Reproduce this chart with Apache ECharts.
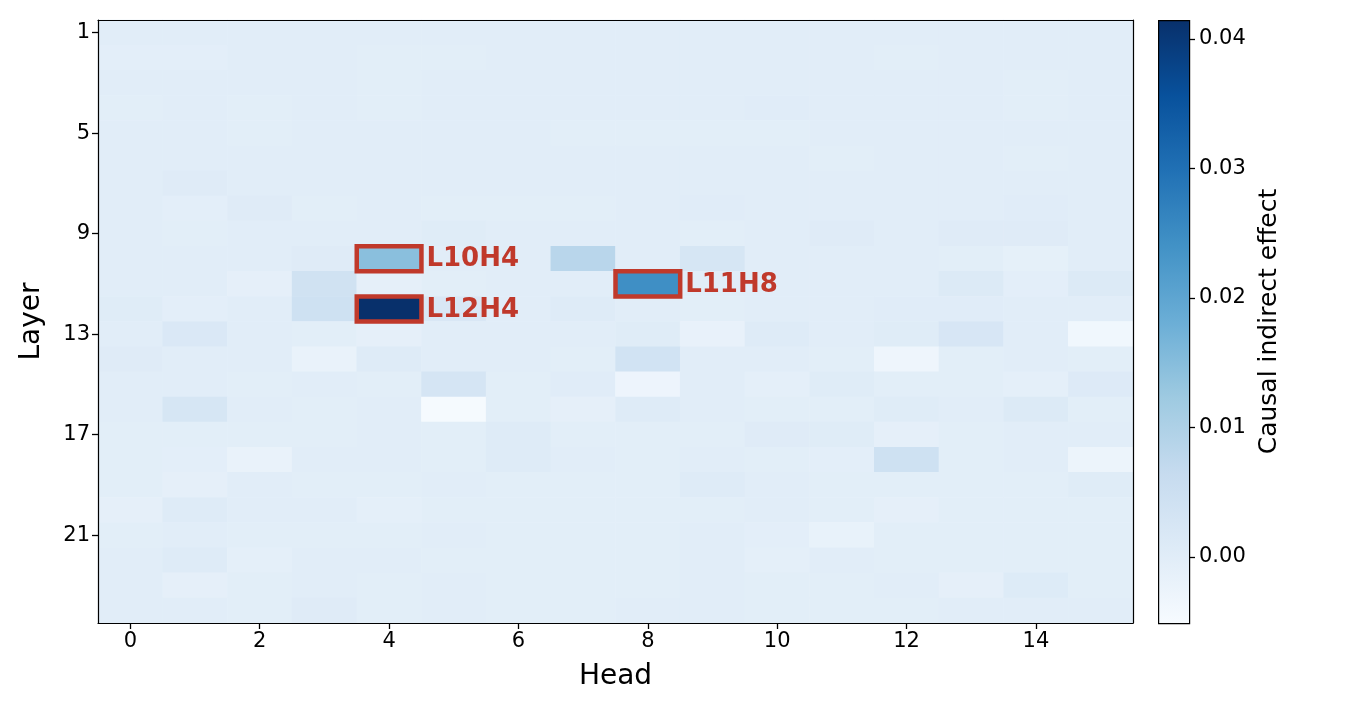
<!DOCTYPE html>
<html>
<head>
<meta charset="utf-8">
<script src="https://cdn.jsdelivr.net/npm/echarts@6/dist/echarts.min.js"></script>
<style>
  html, body { margin: 0; padding: 0; background: #fff; }
  #chart { width: 1365px; height: 715px; }
</style>
</head>
<body>
<div id="chart"></div>
<script>
// causal indirect effect per layer (rows, 1..24) and head (cols, 0..15), in units of 1e-3
const heads = ['0','1','2','3','4','5','6','7','8','9','10','11','12','13','14','15'];
const layers = ['1','2','3','4','5','6','7','8','9','10','11','12','13','14','15','16','17','18','19','20','21','22','23','24'];
const effect = [
  [0, 0, 0, 0, 0, 0, 0, 0, 0, 0, 0, 0, 0, 0, 0, 0],
  [-0.4, -0.4, 0, 0, -0.3, -0.3, 0, 0, 0, 0, 0, 0, -0.3, 0, 0, 0],
  [0, 0, 0, 0, -0.3, 0, 0, 0, 0, 0, 0, 0, 0, 0, -0.3, 0],
  [-0.3, 0, -0.3, 0, -0.3, 0, 0, 0, 0, 0, 0.2, 0, 0, 0, -0.3, 0],
  [0, 0, -0.3, 0, 0, 0, 0, -0.3, -0.2, -0.3, -0.3, 0, 0, 0, 0, 0],
  [0, 0, 0, 0, 0, 0, 0, 0, 0, 0, 0, -0.3, 0, 0, -0.3, 0],
  [0, 0.6, 0, 0, 0, 0, 0, 0, 0, 0, 0, 0, 0, 0, 0, 0],
  [0, -0.4, 0.6, -0.3, 0, -0.3, -0.3, -0.3, 0, 0.3, 0, 0, 0, 0, 0.3, 0],
  [0, -0.3, 0, 0, 0, 0.4, 0, 0, 0, -0.3, 0, 0.6, 0, 0.6, 0.6, 0],
  [0, 0, 0, 0.6, 14.6, 0, 0, 8.4, 0, 2.7, 0, 0, 0, -0.3, -1.0, 0],
  [0, 0, -0.8, 4.0, -0.8, -0.3, 0, 0, 24.5, 0, 0, 0, 0, 1.2, -0.5, 1.2],
  [0.4, -0.4, 0, 4.5, 41.5, 2.0, 0, 0.8, 0, -0.3, 0, 0, 0.3, 0.3, 0, 0],
  [0, 1.8, 0, -0.3, -0.8, 0, 0, 0, 0.5, -1.6, 0.8, 0, 0.5, 2.5, 0, -3.5],
  [0.6, 0, 0, -1.8, 0.8, 0, 0, -0.2, 3.8, 0, 0, -0.2, -3.0, -0.2, 0, -0.2],
  [0, 0, -0.3, 0, -0.3, 3.0, -0.3, 0.3, -2.7, 0, -0.7, 0.5, -0.2, -0.2, -0.6, 1.0],
  [0, 2.7, 0, -0.3, 0, -4.6, -0.3, -0.9, 0.8, 0, -0.2, -0.2, 0.4, 0, 1.1, -0.2],
  [-0.2, -0.2, -0.2, -0.2, 0, -0.3, 0.7, -0.2, -0.2, -0.2, 0.6, 0.4, -0.8, -0.2, 0, 0],
  [-0.3, -0.4, -1.8, 0, 0, -0.3, 0.7, 0, -0.2, 0, -0.2, -0.4, 4.5, -0.2, 0, -2.5],
  [-0.3, -0.8, 0, -0.2, -0.3, 0, -0.2, -0.2, -0.2, 0.7, 0, -0.2, -0.2, -0.2, -0.2, 0.4],
  [-0.9, 0.7, 0, 0, -0.7, -0.2, -0.2, -0.2, -0.2, -0.3, 0, -0.3, -0.9, -0.2, -0.2, -0.2],
  [-0.2, 0, -0.2, -0.2, -0.2, 0, -0.2, -0.2, -0.2, 0, -0.4, -1.7, -0.2, -0.2, -0.2, -0.2],
  [0, 0.8, -0.6, 0, 0, -0.2, -0.2, -0.2, -0.2, 0, -0.7, 0, -0.2, -0.2, -0.2, -0.2],
  [0, -0.8, -0.2, 0, -0.3, 0, -0.2, -0.2, -0.3, 0, -0.2, -0.2, 0, -0.9, 0.9, -0.2],
  [0, 0, -0.2, 0.6, -0.2, 0, -0.2, -0.2, 0, 0, -0.2, -0.2, -0.3, 0, 0, 0]
];
// highlighted heads: [label, head, layer]
const boxes = [
  ['L10H4', '4', '10'],
  ['L12H4', '4', '12'],
  ['L11H8', '8', '11']
];
const colorMin = -0.0051;
const colorMax = 0.04147;
const colorTicks = [0, 0.01, 0.02, 0.03, 0.04];
const blues = ['#f7fbff', '#deebf7', '#c6dbef', '#9ecae1', '#6baed6', '#4292c6', '#2171b5', '#08519c', '#08306b'];

const FONT = 'DejaVu Sans';
const RED = '#c0392b';

const cells = [];
effect.forEach((row, li) => {
  row.forEach((v, hi) => {
    cells.push([hi, li, v / 1000]);
  });
});

const chart = echarts.init(document.getElementById('chart'), null, { renderer: 'canvas' });

// colorbar geometry (same numbers as grid 1)
const cb = { left: 1158, top: 20, width: 31, height: 603 };

const tickStyle = { color: '#000', width: 1.3 };

const option = {
  backgroundColor: '#fff',
  animation: false,
  textStyle: { fontFamily: FONT },
  grid: [
    { left: 98, right: 232, top: 20, bottom: 92 },
    { left: cb.left, top: cb.top, width: cb.width, height: cb.height }
  ],
  visualMap: {
    show: false,
    type: 'continuous',
    min: colorMin,
    max: colorMax,
    seriesIndex: 0,
    dimension: 2,
    inRange: { color: blues }
  },
  xAxis: [
    {
      type: 'category',
      data: heads,
      gridIndex: 0,
      position: 'bottom',
      z: 5,
      name: 'Head',
      nameLocation: 'middle',
      nameGap: 40,
      nameTextStyle: { fontSize: 28, color: '#000', fontFamily: FONT },
      axisLine: { show: true, lineStyle: { color: '#000', width: 1.2 } },
      axisTick: { show: true, inside: false, alignWithLabel: true, interval: 1, length: 6, lineStyle: tickStyle },
      axisLabel: { show: true, interval: 1, fontSize: 21, color: '#000', margin: 8, fontFamily: FONT },
      splitLine: { show: false }
    },
    {
      type: 'category',
      data: heads,
      gridIndex: 0,
      position: 'top',
      z: 5,
      axisLine: { show: true, lineStyle: { color: '#000', width: 1.2 } },
      axisTick: { show: false },
      axisLabel: { show: false },
      splitLine: { show: false }
    },
    {
      type: 'category',
      data: [''],
      gridIndex: 1,
      show: false
    }
  ],
  yAxis: [
    {
      type: 'category',
      data: layers,
      gridIndex: 0,
      inverse: true,
      z: 5,
      name: 'Layer',
      nameLocation: 'middle',
      nameGap: 52,
      nameTextStyle: { fontSize: 28, color: '#000', fontFamily: FONT },
      axisLine: { show: true, lineStyle: { color: '#000', width: 1.2 } },
      axisTick: { show: true, inside: false, alignWithLabel: true, interval: 3, length: 6, lineStyle: tickStyle },
      axisLabel: { show: true, interval: 3, fontSize: 21, color: '#000', margin: 8, fontFamily: FONT },
      splitLine: { show: false }
    },
    {
      type: 'category',
      data: layers,
      gridIndex: 0,
      inverse: true,
      position: 'right',
      z: 5,
      axisLine: { show: true, lineStyle: { color: '#000', width: 1.2 } },
      axisTick: { show: false },
      axisLabel: { show: false },
      splitLine: { show: false }
    },
    {
      type: 'value',
      gridIndex: 1,
      position: 'right',
      min: colorMin,
      max: colorMax,
      z: 5,
      name: 'Causal indirect effect',
      nameLocation: 'middle',
      nameRotate: 90,
      nameGap: 68,
      nameTextStyle: { fontSize: 25, color: '#000', fontFamily: FONT },
      axisLine: { show: false, onZero: false },
      axisTick: { show: true, inside: false, customValues: colorTicks, length: 6, lineStyle: tickStyle },
      axisLabel: {
        customValues: colorTicks, fontSize: 21, color: '#000', margin: 10, fontFamily: FONT,
        formatter: v => v.toFixed(2)
      },
      splitLine: { show: false }
    }
  ],
  graphic: [
    {
      type: 'rect',
      left: cb.left,
      top: cb.top,
      shape: { width: cb.width, height: cb.height },
      z: 1,
      style: {
        fill: new echarts.graphic.LinearGradient(0, 1, 0, 0,
          blues.map((c, i) => ({ offset: i / (blues.length - 1), color: c }))),
        stroke: '#000',
        lineWidth: 1.2
      }
    }
  ],
  series: [
    {
      type: 'heatmap',
      xAxisIndex: 0,
      yAxisIndex: 0,
      data: cells,
      itemStyle: { borderWidth: 0 },
      emphasis: { disabled: true },
      progressive: 0
    },
    {
      type: 'custom',
      xAxisIndex: 0,
      yAxisIndex: 0,
      z: 10,
      data: boxes.map(b => [b[1], b[2], b[0]]),
      encode: { x: 0, y: 1 },
      renderItem: function (params, api) {
        const c = api.coord([api.value(0), api.value(1)]);
        const s = api.size([1, 1]);
        const label = boxes[params.dataIndex][0];
        return {
          type: 'group',
          children: [
            {
              type: 'rect',
              shape: { x: c[0] - s[0] / 2, y: c[1] - s[1] / 2, width: s[0], height: s[1] },
              style: { fill: 'none', stroke: RED, lineWidth: 4.5 }
            },
            {
              type: 'text',
              x: c[0] + s[0] / 2 + 5,
              y: c[1] + 1,
              style: {
                text: label,
                fill: RED,
                font: 'bold 26px "DejaVu Sans"',
                align: 'left',
                verticalAlign: 'middle'
              }
            }
          ]
        };
      }
    }
  ]
};

chart.setOption(option);
window.addEventListener('resize', () => chart.resize());
</script>
</body>
</html>
